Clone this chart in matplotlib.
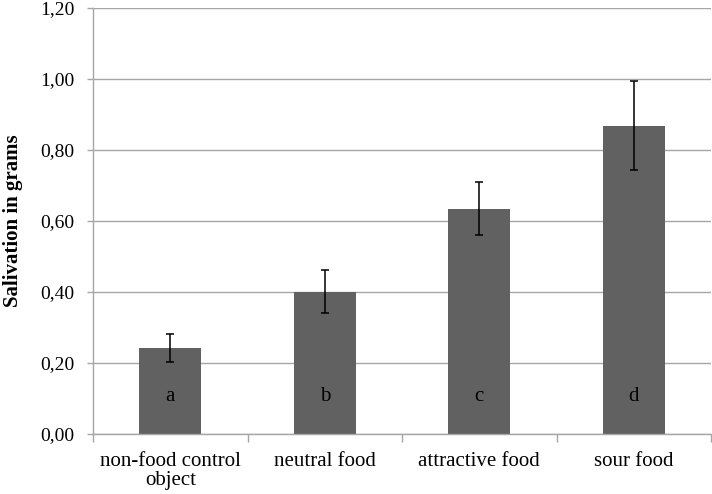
import matplotlib.pyplot as plt
import numpy as np
from matplotlib.ticker import FuncFormatter

categories = ["non-food control\nobject", "neutral food", "attractive food", "sour food"]
means = [0.241, 0.400, 0.635, 0.868]
err_low = [0.203, 0.341, 0.561, 0.743]
err_high = [0.281, 0.462, 0.709, 0.994]
letters = ["a", "b", "c", "d"]

plt.rcParams["font.family"] = ["Liberation Serif", "DejaVu Serif"]

fig = plt.figure(figsize=(7.12, 4.94), dpi=100)
ax = fig.add_axes([93 / 712, 60 / 494, 618 / 712, 426 / 494])

x = np.arange(len(categories))
means_arr = np.array(means)
yerr = [means_arr - np.array(err_low), np.array(err_high) - means_arr]

ax.bar(x, means, width=0.4, color="#616161", zorder=2)
ax.errorbar(x, means, yerr=yerr, fmt="none", ecolor="black", elinewidth=1.1,
            capsize=3, capthick=1.1, zorder=3)

for xi, lab in zip(x, letters):
    ax.text(xi, 0.105, lab, ha="center", va="center", fontsize=15, color="black", zorder=4)

ax.set_xlim(-0.5, len(categories) - 0.5)
ax.set_ylim(0, 1.2)
ax.set_yticks(np.arange(0, 1.21, 0.2))
ax.yaxis.set_major_formatter(FuncFormatter(lambda v, _: f"{v:.2f}".replace(".", ",")))
ax.yaxis.grid(True, color="#a6a6a6", linewidth=1.0, zorder=0)
ax.set_axisbelow(True)

ax.set_xticks(x)
ax.set_xticklabels(categories, fontsize=15, linespacing=1.0)
ax.set_xticks(np.arange(-0.5, len(categories), 1.0), minor=True)
ax.tick_params(axis="x", which="major", length=0, pad=13)
ax.tick_params(axis="x", which="minor", length=6, color="#a6a6a6", width=1.0)
ax.tick_params(axis="y", length=4.5, color="#a6a6a6", width=1.0, labelsize=14, pad=9)

for side in ["top", "right"]:
    ax.spines[side].set_visible(False)
for side in ["left", "bottom"]:
    ax.spines[side].set_color("#a6a6a6")
    ax.spines[side].set_linewidth(1.0)

ax.set_ylabel("Salivation in grams", fontsize=15, fontweight="bold", labelpad=12)

plt.savefig("out.png", dpi=100)
